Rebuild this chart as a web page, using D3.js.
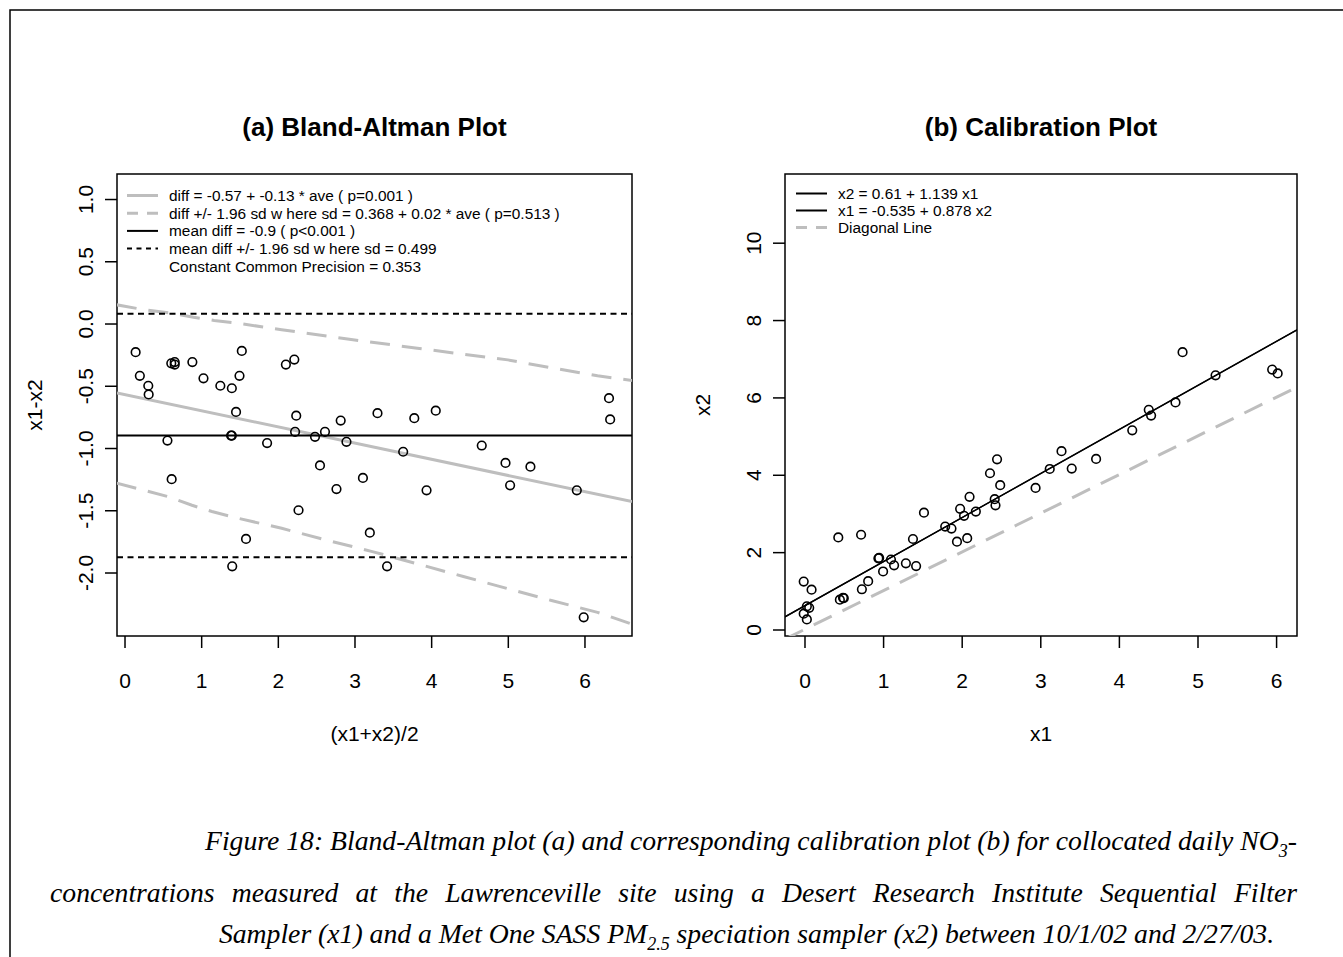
<!DOCTYPE html>
<html>
<head>
<meta charset="utf-8">
<script src="https://cdn.jsdelivr.net/npm/d3@7/dist/d3.min.js"></script>
<style>
  body { margin: 0; background: #fff; }
  svg text { font-family: "Liberation Sans", Arial, sans-serif; fill: #000; }
</style>
</head>
<body>
<svg id="fig" width="1343" height="957"></svg>
<script>
// collocated daily NO3 : x1 = DRI sequential filter sampler, x2 = Met One SASS
var x1 = [0.03, -0.01, 0.06, 0.03, 0.09, -0.01, 0.45, 0.50, 0.49, 0.73, 0.81, 1.00,
          1.14, 1.42, 1.29, 1.10, 0.94, 0.95, 0.43, 0.72, 1.38, 1.94, 2.07, 1.87,
          1.79, 1.52, 2.03, 1.98, 2.18, 2.10, 2.43, 2.42, 2.49, 2.36, 2.94, 2.45,
          3.12, 3.40, 3.27, 3.71, 4.17, 4.41, 4.38, 4.72, 5.23, 4.81, 6.02, 5.95]
var x2 = [0.26, 0.41, 0.56, 0.60, 1.03, 1.24, 0.77, 0.81, 0.82, 1.04, 1.25, 1.50,
          1.66, 1.64, 1.71, 1.81, 1.84, 1.85, 2.38, 2.45, 2.34, 2.27, 2.36, 2.61,
          2.66, 3.02, 2.94, 3.12, 3.05, 3.43, 3.21, 3.37, 3.73, 4.04, 3.66, 4.40,
          4.15, 4.16, 4.61, 4.41, 5.15, 5.53, 5.68, 5.87, 6.57, 7.17, 6.62, 6.72]

// bland-altman fits (from the legend)
var diffFit = { intercept: -0.57, slope: -0.13 }
var meanDiff = -0.9
var sdDiff = 0.499

// limits of the sd-model
var upperAve = [-0.10, 0.26, 0.59, 0.90, 1.17, 1.45, 2.05, 2.91, 3.82, 4.42, 5.00, 5.57, 6.17, 6.62]
var upperVal = [0.150, 0.110, 0.085, 0.050, 0.025, 0.005, -0.050, -0.125, -0.198, -0.247, -0.292, -0.356, -0.420, -0.458]
var lowerAve = [-0.10, 0.26, 0.59, 0.88, 1.14, 1.45, 2.05, 2.65, 3.22, 3.82, 4.42, 5.00, 5.57, 6.17, 6.62]
var lowerVal = [-1.282, -1.340, -1.394, -1.460, -1.510, -1.560, -1.645, -1.742, -1.830, -1.930, -2.032, -2.130, -2.225, -2.320, -2.415]

// calibration fits
var calFit = { intercept: 0.61, slope: 1.139 }
var calFitInv = { intercept: -0.535, slope: 0.878 }

var ticksA_x = [0, 1, 2, 3, 4, 5, 6]
var ticksA_y = [-2, -1.5, -1, -0.5, 0, 0.5, 1]
var ticksB_x = [0, 1, 2, 3, 4, 5, 6]
var ticksB_y = [0, 2, 4, 6, 8, 10]

var legendA = ["diff = -0.57 + -0.13 * ave ( p=0.001 )",
               "diff +/- 1.96 sd w here sd = 0.368 + 0.02 * ave ( p=0.513 )",
               "mean diff = -0.9 ( p<0.001 )",
               "mean diff +/- 1.96 sd w here sd = 0.499",
               "Constant Common Precision = 0.353"]
var legendB = ["x2 = 0.61 + 1.139 x1",
               "x1 = -0.535 + 0.878 x2",
               "Diagonal Line"]

var gray = "#bebebe"
var grayDash = "20,12"

var ave = x1.map((d, i) => (d + x2[i]) / 2)
var dif = x1.map((d, i) => d - x2[i])

var svg = d3.select("#fig")

// page frame
svg.append("rect")
  .attr("x", 10).attr("y", 10)
  .attr("width", 1400).attr("height", 1000)
  .attr("fill", "none").attr("stroke", "#000").attr("stroke-width", 1.5)

var boxA = { left: 117, right: 632, top: 174, bottom: 636 }
var boxB = { left: 785, right: 1297, top: 174, bottom: 636 }

var xA = d3.scaleLinear().domain([-0.098, 6.62]).range([boxA.left, boxA.right])
var yA = d3.scaleLinear().domain([-2.51, 1.201]).range([boxA.bottom, boxA.top])
var xB = d3.scaleLinear().domain([-0.248, 6.266]).range([boxB.left, boxB.right])
var yB = d3.scaleLinear().domain([-0.168, 11.776]).range([boxB.bottom, boxB.top])

var defs = svg.append("defs")
function clip(id, box) {
  defs.append("clipPath").attr("id", id)
    .append("rect")
    .attr("x", box.left).attr("y", box.top)
    .attr("width", box.right - box.left).attr("height", box.bottom - box.top)
}
clip("clipA", boxA)
clip("clipB", boxB)

function axes(box, xs, ys, xt, yt, yfmt, xlab, ylab, title) {
  var gx = svg.append("g")
    .attr("transform", `translate(0,${box.bottom})`)
    .call(d3.axisBottom(xs).tickValues(xt).tickSize(12).tickFormat(d => String(d)))
  gx.select(".domain").remove()
  gx.attr("font-family", null).attr("font-size", null)
  gx.selectAll("line").attr("stroke-width", 1.5)
  gx.selectAll("text")
    .attr("y", 37).attr("dy", "0.71em")
    .style("font-size", "21px")

  var gy = svg.append("g")
    .attr("transform", `translate(${box.left},0)`)
    .call(d3.axisLeft(ys).tickValues(yt).tickSize(12).tickFormat(yfmt))
  gy.select(".domain").remove()
  gy.attr("font-family", null).attr("font-size", null)
  gy.selectAll("line").attr("stroke-width", 1.5)
  gy.selectAll("text")
    .attr("transform", "rotate(-90)")
    .attr("x", 0).attr("y", -24).attr("dy", 0)
    .attr("text-anchor", "middle")
    .style("font-size", "21px")

  svg.append("rect")
    .attr("x", box.left).attr("y", box.top)
    .attr("width", box.right - box.left).attr("height", box.bottom - box.top)
    .attr("fill", "none").attr("stroke", "#000").attr("stroke-width", 1.5)

  var cx = (box.left + box.right) / 2
  svg.append("text")
    .attr("x", cx).attr("y", 733)
    .attr("text-anchor", "middle").attr("dominant-baseline", "central")
    .style("font-size", "21px")
    .text(xlab)
  svg.append("text")
    .attr("transform", `translate(${box.left - 83},405) rotate(-90)`)
    .attr("text-anchor", "middle").attr("dominant-baseline", "central")
    .style("font-size", "21px")
    .text(ylab)
  svg.append("text")
    .attr("x", cx).attr("y", 127)
    .attr("text-anchor", "middle").attr("dominant-baseline", "central")
    .style("font-size", "26px").style("font-weight", "bold")
    .text(title)
}

axes(boxA, xA, yA, ticksA_x, ticksA_y, d => d.toFixed(1), "(x1+x2)/2", "x1-x2", "(a) Bland-Altman Plot")
axes(boxB, xB, yB, ticksB_x, ticksB_y, d => String(d), "x1", "x2", "(b) Calibration Plot")

// ---- panel a lines
var gA = svg.append("g").attr("clip-path", "url(#clipA)")
var domA = xA.domain()

function abline(g, xs, ys, dom, a, b) {
  return g.append("line")
    .attr("x1", xs(dom[0])).attr("y1", ys(a + b * dom[0]))
    .attr("x2", xs(dom[1])).attr("y2", ys(a + b * dom[1]))
    .attr("fill", "none")
}

abline(gA, xA, yA, domA, diffFit.intercept, diffFit.slope)
  .attr("stroke", gray).attr("stroke-width", 3)

var limLine = d3.line().x(d => xA(d[0])).y(d => yA(d[1]))
gA.append("path")
  .attr("d", limLine(upperAve.map((a, i) => [a, upperVal[i]])))
  .attr("fill", "none").attr("stroke", gray).attr("stroke-width", 3)
  .attr("stroke-dasharray", grayDash)
gA.append("path")
  .attr("d", limLine(lowerAve.map((a, i) => [a, lowerVal[i]])))
  .attr("fill", "none").attr("stroke", gray).attr("stroke-width", 3)
  .attr("stroke-dasharray", grayDash)

abline(gA, xA, yA, domA, meanDiff, 0)
  .attr("stroke", "#000").attr("stroke-width", 2)
abline(gA, xA, yA, domA, meanDiff + 1.96 * sdDiff, 0)
  .attr("stroke", "#000").attr("stroke-width", 2).attr("stroke-dasharray", "6,4.5")
abline(gA, xA, yA, domA, meanDiff - 1.96 * sdDiff, 0)
  .attr("stroke", "#000").attr("stroke-width", 2).attr("stroke-dasharray", "6,4.5")

gA.append("g").selectAll("circle")
  .data(ave)
  .enter().append("circle")
  .attr("cx", d => xA(d))
  .attr("cy", (d, i) => yA(dif[i]))
  .attr("r", 4.3)
  .attr("fill", "none").attr("stroke", "#000").attr("stroke-width", 1.6)

// ---- panel b lines
var gB = svg.append("g").attr("clip-path", "url(#clipB)")
var domB = xB.domain()

abline(gB, xB, yB, domB, 0, 1)
  .attr("stroke", gray).attr("stroke-width", 3).attr("stroke-dasharray", grayDash)
abline(gB, xB, yB, domB, calFit.intercept, calFit.slope)
  .attr("stroke", "#000").attr("stroke-width", 1.3)
abline(gB, xB, yB, domB, -calFitInv.intercept / calFitInv.slope, 1 / calFitInv.slope)
  .attr("stroke", "#000").attr("stroke-width", 1.3)

gB.append("g").selectAll("circle")
  .data(x1)
  .enter().append("circle")
  .attr("cx", d => xB(d))
  .attr("cy", (d, i) => yB(x2[i]))
  .attr("r", 4.3)
  .attr("fill", "none").attr("stroke", "#000").attr("stroke-width", 1.6)

// ---- legends
var legStyleA = [
  { c: gray, w: 3, dash: null },
  { c: gray, w: 3, dash: "11,9" },
  { c: "#000", w: 2, dash: null },
  { c: "#000", w: 2, dash: "5,4.5" },
  null
]
var legStyleB = [
  { c: "#000", w: 2, dash: null },
  { c: "#000", w: 2, dash: null },
  { c: gray, w: 3, dash: "11,9" }
]

function legend(labels, styles, x0, y0, step) {
  var g = svg.append("g")
  labels.forEach(function (lab, i) {
    var y = y0 + i * step
    var s = styles[i]
    if (s) {
      g.append("line")
        .attr("x1", x0).attr("x2", x0 + 31)
        .attr("y1", y).attr("y2", y)
        .attr("stroke", s.c).attr("stroke-width", s.w)
        .attr("stroke-dasharray", s.dash)
    }
    g.append("text")
      .attr("x", x0 + 42).attr("y", y)
      .attr("dominant-baseline", "central")
      .style("font-size", "15.4px")
      .text(lab)
  })
}
legend(legendA, legStyleA, 127, 195.5, 17.7)
legend(legendB, legStyleB, 796, 193.5, 17)

// ---- caption
var capFont = "'Liberation Serif', 'Times New Roman', serif"
function capText() {
  return svg.append("text")
    .style("font-family", capFont)
    .style("font-style", "italic")
    .style("font-size", "27.7px")
}

var l1 = capText().attr("x", 751).attr("y", 850).attr("text-anchor", "middle")
l1.append("tspan").text("Figure 18: Bland-Altman plot (a) and corresponding calibration plot (b) for collocated daily NO")
l1.append("tspan").attr("dy", 7).style("font-size", "18px").text("3")
l1.append("tspan").attr("dy", -7).text("-")

// justified middle line: widen the word gaps to fill 50..1297
var line2 = "concentrations measured at the Lawrenceville site using a Desert Research Institute Sequential Filter"
var l2 = capText().attr("x", 50).attr("y", 902).text(line2)
var gaps = line2.split(" ").length - 1
var extra = (1247 - l2.node().getComputedTextLength()) / gaps
l2.style("word-spacing", extra + "px")

var l3 = capText().attr("x", 746.5).attr("y", 943).attr("text-anchor", "middle")
l3.append("tspan").text("Sampler (x1) and a Met One SASS PM")
l3.append("tspan").attr("dy", 7).style("font-size", "18px").text("2.5")
l3.append("tspan").attr("dy", -7).text(" speciation sampler (x2) between 10/1/02 and 2/27/03.")
</script>
</body>
</html>
